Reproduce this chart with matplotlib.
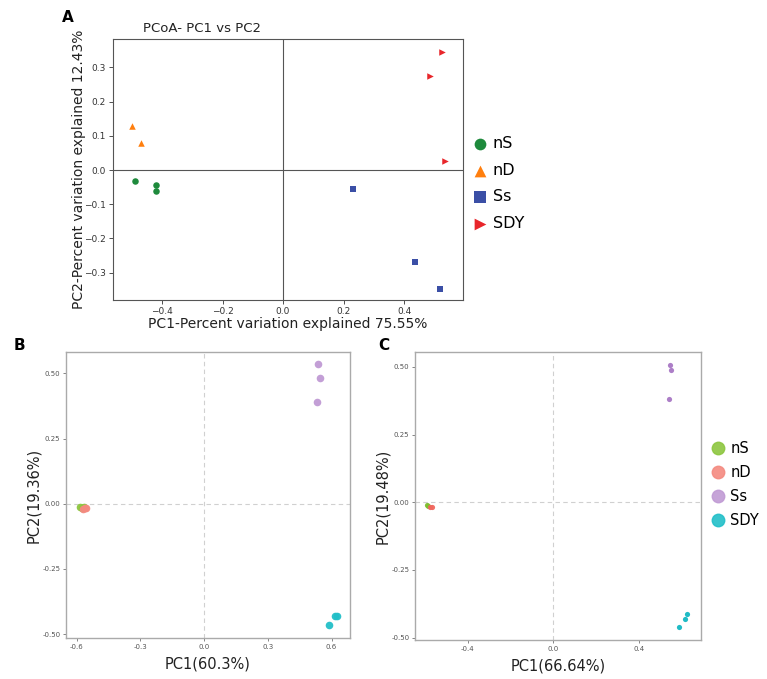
import matplotlib.pyplot as plt

W, H = 767, 679

groups = ['nS', 'nD', 'Ss', 'SDY']

# panel A (PCoA)
a_x = {'nS': [-0.49, -0.42, -0.42],
       'nD': [-0.50, -0.47],
       'Ss': [0.23, 0.435, 0.52],
       'SDY': [0.525, 0.485, 0.535]}
a_y = {'nS': [-0.033, -0.045, -0.062],
       'nD': [0.130, 0.078],
       'Ss': [-0.055, -0.268, -0.348],
       'SDY': [0.345, 0.275, 0.027]}

# panel B
b_x = {'nS': [-0.585, -0.575, -0.565],
       'nD': [-0.572, -0.562, -0.555],
       'Ss': [0.535, 0.545, 0.530],
       'SDY': [0.590, 0.618, 0.624]}
b_y = {'nS': [-0.012, -0.015, -0.012],
       'nD': [-0.020, -0.018, -0.018],
       'Ss': [0.535, 0.482, 0.392],
       'SDY': [-0.465, -0.430, -0.430]}

# panel C
c_x = {'nS': [-0.590, -0.585],
       'nD': [-0.575, -0.565],
       'Ss': [0.545, 0.552, 0.540],
       'SDY': [0.627, 0.619, 0.588]}
c_y = {'nS': [-0.010, -0.013],
       'nD': [-0.017, -0.018],
       'Ss': [0.507, 0.490, 0.380],
       'SDY': [-0.414, -0.430, -0.460]}

a_colors = {'nS': '#1e8a3c', 'nD': '#ff7f0e', 'Ss': '#3b4fa6', 'SDY': '#e8262b'}
a_markers = {'nS': 'o', 'nD': '^', 'Ss': 's', 'SDY': '>'}
bc_colors = {'nS': '#8dc63f', 'nD': '#f48a80', 'Ss': '#c09ad4', 'SDY': '#22bfc8'}
c_colors = {'nS': '#7fbf2f', 'nD': '#f0675e', 'Ss': '#a877c4', 'SDY': '#14b8c2'}


def px_axes(fig, l, t, r, b):
    return fig.add_axes([l / W, 1 - b / H, (r - l) / W, (b - t) / H])


fig = plt.figure(figsize=(W / 100, H / 100), dpi=100)

# ---------- A ----------
ax = px_axes(fig, 113, 39, 463, 300)
for g in groups:
    ax.scatter(a_x[g], a_y[g], s=22, marker=a_markers[g], color=a_colors[g],
               label=g, zorder=3, linewidths=0)
ax.axhline(0, color='#555555', lw=0.8, zorder=1)
ax.axvline(0, color='#555555', lw=0.8, zorder=1)
ax.set_xlim(-0.562, 0.595)
ax.set_ylim(-0.380, 0.383)
ax.set_xticks([-0.4, -0.2, 0.0, 0.2, 0.4])
ax.set_yticks([-0.3, -0.2, -0.1, 0.0, 0.1, 0.2, 0.3])
ax.tick_params(labelsize=6.5, length=3, width=0.6, colors='#333333', pad=2)
for sp in ax.spines.values():
    sp.set_color('#555555')
    sp.set_linewidth(0.8)
ax.set_xlabel('PC1-Percent variation explained 75.55%', fontsize=10, labelpad=1, color='#222222')
ax.set_ylabel('PC2-Percent variation explained 12.43%', fontsize=10, labelpad=-1, color='#222222')
fig.text(143 / W, 1 - 28 / H, 'PCoA- PC1 vs PC2', fontsize=9.5, va='center', ha='left', color='#222222')
fig.text(62 / W, 1 - 18 / H, 'A', fontsize=11, fontweight='bold', va='center', ha='left')
leg = ax.legend(loc='upper left', bbox_to_anchor=(456 / W, 1 - 122 / H), bbox_transform=fig.transFigure,
                frameon=False, fontsize=11.5, markerscale=1.8, handletextpad=0.2, labelspacing=0.72,
                handlelength=1.2)

# ---------- B ----------
def pc_panel(ax, xs, ys, colors, size, xlim, ylim, xticks, xlabel, ylabel):
    for g in groups:
        ax.scatter(xs[g], ys[g], s=size, color=colors[g], zorder=3, linewidths=0, alpha=0.95)
    ax.axhline(0, color='#d0d0d0', lw=0.8, ls=(0, (4, 3)), zorder=1)
    ax.axvline(0, color='#d0d0d0', lw=0.8, ls=(0, (4, 3)), zorder=1)
    ax.set_xlim(*xlim)
    ax.set_ylim(*ylim)
    ax.set_xticks(xticks)
    ax.set_yticks([-0.50, -0.25, 0.0, 0.25, 0.50])
    ax.set_yticklabels(['-0.50', '-0.25', '0.00', '0.25', '0.50'])
    ax.set_xticklabels(['%.1f' % v for v in xticks])
    ax.tick_params(labelsize=5, length=2, width=0.5, colors='#555555', pad=2)
    for sp in ax.spines.values():
        sp.set_color('#aaaaaa')
        sp.set_linewidth(1.0)
    ax.set_xlabel(xlabel, fontsize=10.5, labelpad=5, color='#222222')
    ax.set_ylabel(ylabel, fontsize=10.5, labelpad=1, color='#222222')


axb = px_axes(fig, 66, 352, 350, 638)
pc_panel(axb, b_x, b_y, bc_colors, 30, (-0.65, 0.687), (-0.515, 0.582),
         [-0.6, -0.3, 0.0, 0.3, 0.6], 'PC1(60.3%)', 'PC2(19.36%)')
fig.text(14 / W, 1 - 346 / H, 'B', fontsize=11, fontweight='bold', va='center', ha='left')

axc = px_axes(fig, 415, 352, 701, 640)
pc_panel(axc, c_x, c_y, c_colors, 14, (-0.646, 0.692), (-0.509, 0.555),
         [-0.4, 0.0, 0.4], 'PC1(66.64%)', 'PC2(19.48%)')
fig.text(378 / W, 1 - 346 / H, 'C', fontsize=11, fontweight='bold', va='center', ha='left')

handles = [plt.Line2D([], [], marker='o', ls='', markersize=9, color=bc_colors[g], alpha=0.9) for g in groups]
fig.legend(handles, groups, loc='upper left', bbox_to_anchor=(694 / W, 1 - 428 / H),
           frameon=False, fontsize=10.5, handletextpad=0.1, labelspacing=0.62, handlelength=1.5)

fig.savefig('out.png', dpi=100)
